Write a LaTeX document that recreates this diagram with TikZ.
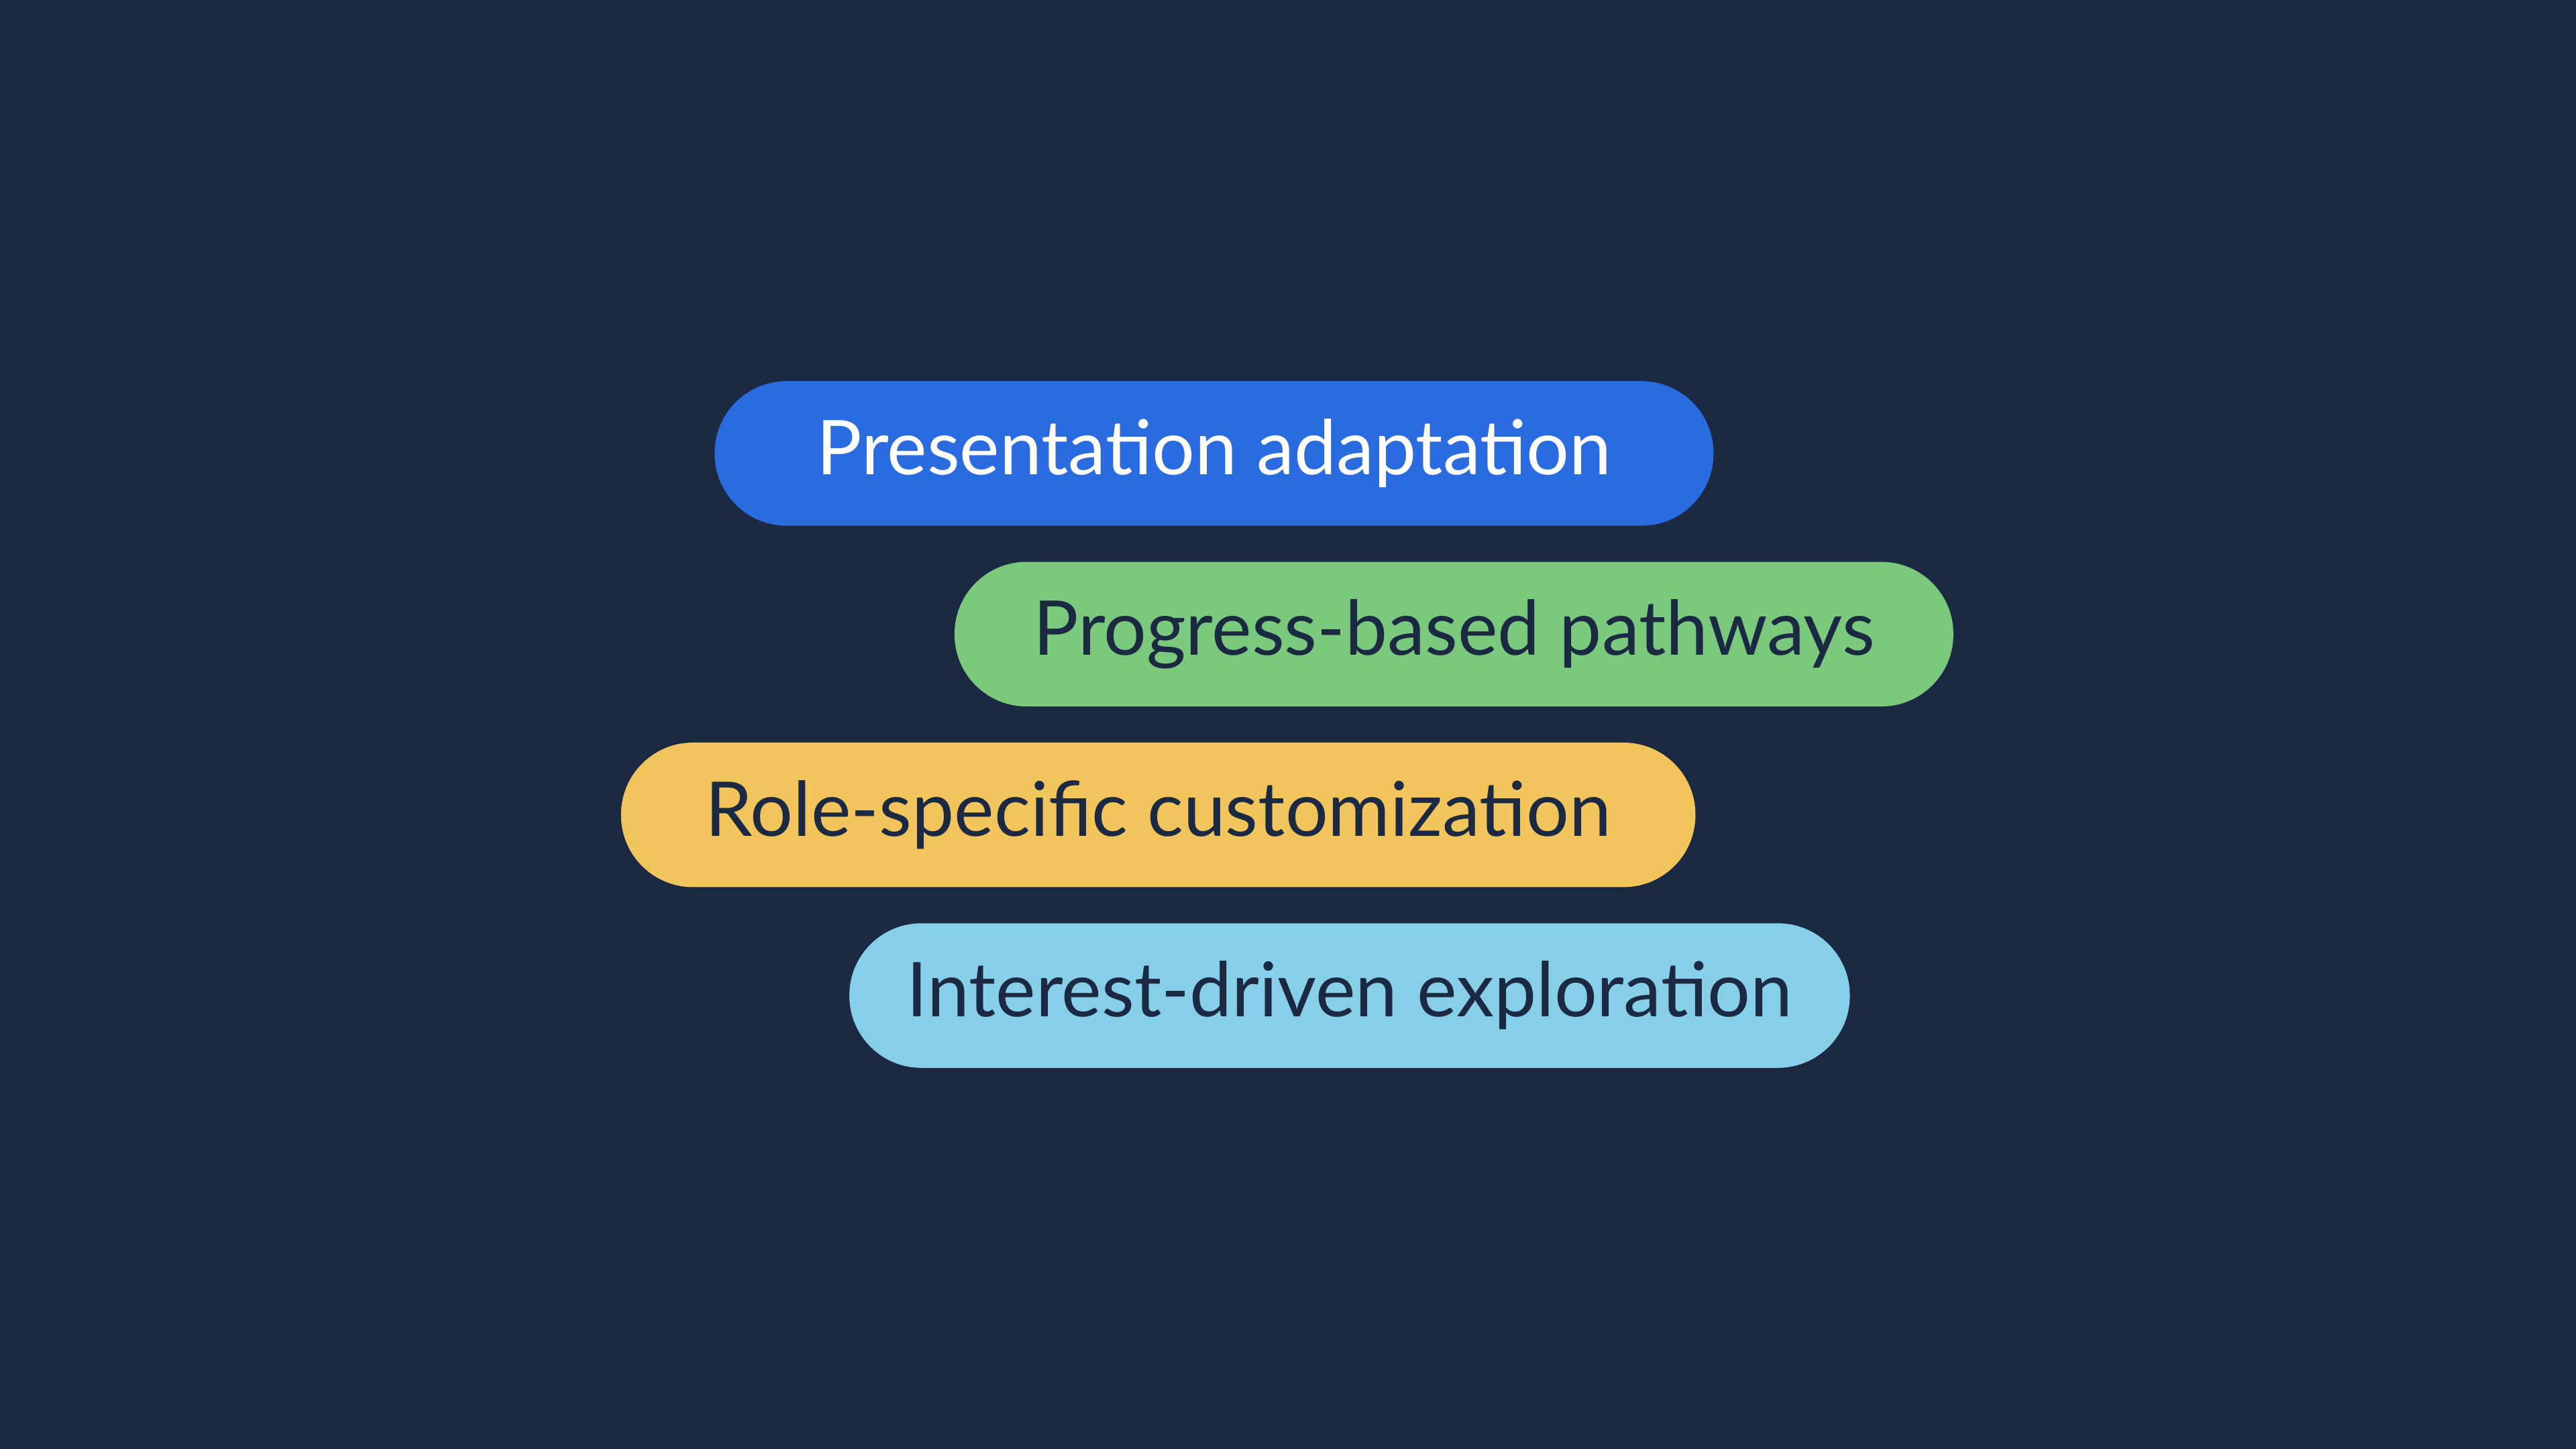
\documentclass[tikz,border=0pt]{standalone}
\usepackage{fontspec}
\setmainfont{Lato}
\definecolor{bg}{HTML}{1B2942}
\definecolor{cblue}{HTML}{2B6BE0}
\definecolor{cgreen}{HTML}{7BC97C}
\definecolor{cyellow}{HTML}{F2C45C}
\definecolor{clight}{HTML}{87CFE8}
\begin{document}
\begin{tikzpicture}[x=0.5pt,y=-0.5pt,
 pill/.style={rounded corners=21.9pt,minimum height=44pt,inner sep=0pt,text=bg,font=\fontsize{23}{26}\selectfont}]
\fill[bg] (0,0) rectangle (1568,882);
\useasboundingbox (0,0) rectangle (1568,882);
\node[pill,fill=cblue,text=white,minimum width=304pt] (p1) at (739,276) {Presentation adaptation};
\node[pill,fill=cgreen,minimum width=304pt] (p2) at (885,386) {Progress-based pathways};
\node[pill,fill=cyellow,minimum width=327pt] (p3) at (705,496) {Role-specific customization};
\node[pill,fill=clight,minimum width=304.5pt] (p4) at (821.5,606) {Interest-driven exploration};
\end{tikzpicture}
\end{document}
